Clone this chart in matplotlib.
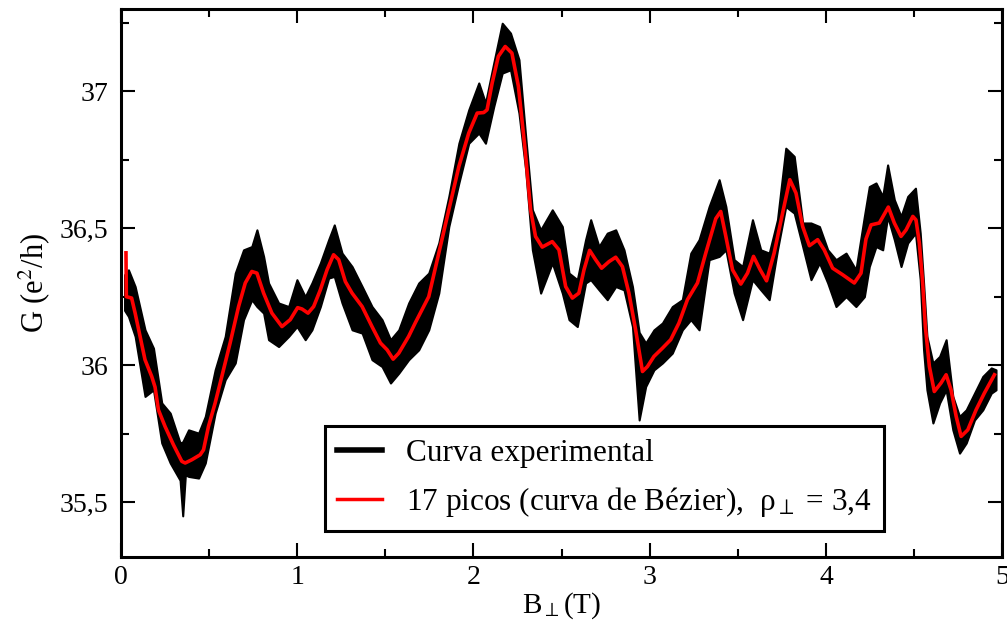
import matplotlib
matplotlib.use('Agg')
import matplotlib.pyplot as plt
from matplotlib.lines import Line2D
from matplotlib.ticker import MultipleLocator, FuncFormatter

plt.rcParams['font.family'] = 'Liberation Serif'
plt.rcParams['mathtext.fontset'] = 'stix'

# curva de Bézier (vermelha)
red_b = [0.028, 0.030, 0.060, 0.080, 0.108, 0.136, 0.174, 0.193, 0.212, 0.250,
         0.297, 0.345, 0.364, 0.402, 0.449, 0.468, 0.496, 0.534, 0.572, 0.619,
         0.667, 0.705, 0.742, 0.771, 0.809, 0.856, 0.913, 0.960, 1.002, 1.027,
         1.061, 1.093, 1.131, 1.169, 1.206, 1.235, 1.273, 1.311, 1.368, 1.424,
         1.472, 1.510, 1.544, 1.576, 1.632, 1.670, 1.746, 1.803, 1.860, 1.917,
         1.973, 2.021, 2.058, 2.077, 2.106, 2.141, 2.180, 2.218, 2.255, 2.293,
         2.324, 2.352, 2.390, 2.447, 2.485, 2.523, 2.561, 2.598, 2.627, 2.659,
         2.693, 2.727, 2.769, 2.807, 2.845, 2.882, 2.920, 2.959, 2.987, 3.024,
         3.072, 3.119, 3.166, 3.214, 3.271, 3.318, 3.375, 3.403, 3.432, 3.470,
         3.517, 3.555, 3.589, 3.627, 3.663, 3.706, 3.754, 3.795, 3.830, 3.868,
         3.906, 3.953, 3.990, 4.038, 4.095, 4.161, 4.199, 4.227, 4.256, 4.303,
         4.354, 4.388, 4.426, 4.455, 4.493, 4.511, 4.530, 4.549, 4.564, 4.587,
         4.615, 4.653, 4.682, 4.710, 4.739, 4.767, 4.805, 4.852, 4.899, 4.956]
red_g = [36.41, 36.25, 36.245, 36.19, 36.105, 36.02, 35.959, 35.92, 35.837, 35.776,
         35.71, 35.649, 35.643, 35.655, 35.673, 35.691, 35.776, 35.862, 35.959, 36.081,
         36.214, 36.30, 36.342, 36.336, 36.263, 36.19, 36.141, 36.166, 36.21, 36.205,
         36.19, 36.214, 36.275, 36.348, 36.403, 36.385, 36.305, 36.263, 36.214, 36.141,
         36.081, 36.056, 36.022, 36.044, 36.105, 36.155, 36.25, 36.409, 36.567, 36.725,
         36.847, 36.92, 36.922, 36.932, 37.03, 37.127, 37.163, 37.139, 37.017, 36.786,
         36.567, 36.47, 36.431, 36.451, 36.421, 36.287, 36.245, 36.263, 36.348, 36.419,
         36.385, 36.354, 36.378, 36.394, 36.36, 36.263, 36.129, 35.977, 35.995, 36.032,
         36.062, 36.093, 36.154, 36.239, 36.30, 36.409, 36.535, 36.561, 36.47, 36.348,
         36.296, 36.336, 36.397, 36.348, 36.308, 36.409, 36.555, 36.677, 36.628, 36.506,
         36.436, 36.458, 36.421, 36.354, 36.33, 36.30, 36.336, 36.46, 36.512, 36.519,
         36.577, 36.519, 36.47, 36.494, 36.543, 36.53, 36.446, 36.30, 36.141, 35.995,
         35.904, 35.935, 35.965, 35.91, 35.813, 35.74, 35.764, 35.837, 35.898, 35.965]

# curva experimental: envoltória superior / inferior do traço ruidoso
blk_b = [0.02, 0.042, 0.08, 0.136, 0.184, 0.231, 0.279, 0.335, 0.35, 0.365,
         0.383, 0.44, 0.478, 0.534, 0.591, 0.648, 0.695, 0.742, 0.771, 0.809,
         0.837, 0.894, 0.951, 0.998, 1.045, 1.083, 1.131, 1.178, 1.21, 1.254,
         1.311, 1.368, 1.424, 1.481, 1.529, 1.576, 1.632, 1.689, 1.746, 1.803,
         1.86, 1.917, 1.973, 2.03, 2.068, 2.115, 2.163, 2.21, 2.258, 2.296,
         2.334, 2.381, 2.447, 2.504, 2.542, 2.589, 2.636, 2.665, 2.712, 2.759,
         2.807, 2.854, 2.902, 2.94, 2.977, 3.024, 3.072, 3.128, 3.185, 3.233,
         3.28, 3.337, 3.394, 3.432, 3.479, 3.527, 3.583, 3.63, 3.678, 3.725,
         3.772, 3.82, 3.868, 3.915, 3.963, 4.01, 4.057, 4.114, 4.17, 4.218,
         4.246, 4.284, 4.322, 4.35, 4.388, 4.426, 4.464, 4.508, 4.535, 4.554,
         4.573, 4.607, 4.645, 4.682, 4.72, 4.758, 4.796, 4.843, 4.89, 4.938,
         4.965]
blk_top = [36.33, 36.348, 36.287, 36.129, 36.062, 35.862, 35.825, 35.716, 35.72, 35.74,
           35.764, 35.752, 35.813, 35.983, 36.105, 36.336, 36.421, 36.433, 36.494, 36.397,
           36.30, 36.227, 36.214, 36.312, 36.25, 36.30, 36.373, 36.458, 36.512, 36.409,
           36.36, 36.287, 36.214, 36.166, 36.093, 36.129, 36.227, 36.30, 36.336, 36.446,
           36.616, 36.81, 36.932, 37.03, 36.957, 37.103, 37.248, 37.212, 37.115, 36.835,
           36.567, 36.494, 36.567, 36.506, 36.336, 36.312, 36.458, 36.531, 36.433, 36.482,
           36.494, 36.421, 36.287, 36.12, 36.081, 36.129, 36.154, 36.214, 36.239, 36.409,
           36.458, 36.579, 36.677, 36.579, 36.385, 36.36, 36.531, 36.421, 36.409, 36.531,
           36.792, 36.762, 36.519, 36.519, 36.506, 36.421, 36.385, 36.409, 36.348, 36.543,
           36.652, 36.665, 36.616, 36.731, 36.604, 36.543, 36.616, 36.646, 36.482, 36.30,
           36.105, 36.008, 36.032, 36.093, 35.886, 35.813, 35.837, 35.898, 35.959, 35.99,
           35.983]
blk_bot = [36.2, 36.178, 36.105, 35.886, 35.91, 35.716, 35.643, 35.58, 35.45, 35.60,
           35.594, 35.588, 35.643, 35.825, 35.947, 36.008, 36.166, 36.239, 36.214, 36.19,
           36.093, 36.068, 36.105, 36.141, 36.093, 36.129, 36.214, 36.318, 36.324, 36.227,
           36.129, 36.117, 36.02, 35.995, 35.935, 35.971, 36.02, 36.056, 36.129, 36.263,
           36.506, 36.665, 36.81, 36.847, 36.81, 36.944, 37.066, 37.078, 36.92, 36.713,
           36.421, 36.263, 36.373, 36.263, 36.166, 36.141, 36.30, 36.312, 36.275, 36.239,
           36.287, 36.275, 36.141, 35.80, 35.922, 35.983, 36.008, 36.044, 36.129, 36.166,
           36.129, 36.385, 36.397, 36.421, 36.263, 36.166, 36.312, 36.275, 36.239, 36.421,
           36.579, 36.555, 36.433, 36.312, 36.373, 36.30, 36.214, 36.25, 36.214, 36.25,
           36.36, 36.433, 36.421, 36.543, 36.458, 36.36, 36.446, 36.482, 36.312, 36.056,
           35.91, 35.789, 35.862, 35.91, 35.764, 35.679, 35.716, 35.80, 35.837, 35.898,
           35.91]

x_ticks = [0, 1, 2, 3, 4, 5]
y_ticks = [35.5, 36.0, 36.5, 37.0]
legend_labels = ["Curva experimental",
                 r"17 picos (curva de Bézier),  ρ$_{\perp}$ = 3,4"]

fig = plt.figure(figsize=(10.07, 6.32), dpi=100)
ax = fig.add_axes([0.1202, 0.1187, 0.8750, 0.8671])

ax.fill_between(blk_b, blk_bot, blk_top, color='black', lw=1.5, edgecolor='black')
ax.plot(red_b, red_g, color='#ff0000', lw=2.6, solid_joinstyle='round')

ax.set_xlim(0, 5)
ax.set_ylim(35.3, 37.3)
ax.set_xticks(x_ticks)
ax.set_yticks(y_ticks)
ax.xaxis.set_minor_locator(MultipleLocator(0.5))
ax.yaxis.set_minor_locator(MultipleLocator(0.25))
ax.yaxis.set_major_formatter(FuncFormatter(lambda v, p: f"{v:g}".replace('.', ',')))

ax.tick_params(which='both', direction='in', top=True, right=True, width=1.5, labelsize=20)
ax.tick_params(which='major', length=10)
ax.tick_params(axis='x', which='major', pad=6)
ax.tick_params(axis='y', which='major', pad=9)
ax.tick_params(which='minor', length=6)
for sp in ax.spines.values():
    sp.set_linewidth(2.2)

ax.set_xlabel(r"B$_{\perp}$(T)", fontsize=21, labelpad=0)
ax.set_ylabel(r"G (e$^{2}$/h)", fontsize=22, labelpad=6)

handles = [Line2D([], [], color='black', lw=4), Line2D([], [], color='#ff0000', lw=2.5)]
leg = ax.legend(handles, legend_labels, loc='lower left', bbox_to_anchor=(0.231, 0.047),
                fontsize=22.5, frameon=True, fancybox=False, framealpha=1,
                edgecolor='black', handlelength=1.45, handletextpad=0.75,
                borderpad=0.4, labelspacing=0.55, borderaxespad=0)
leg.get_frame().set_linewidth(2.2)

fig.savefig('out.png', dpi=100)
